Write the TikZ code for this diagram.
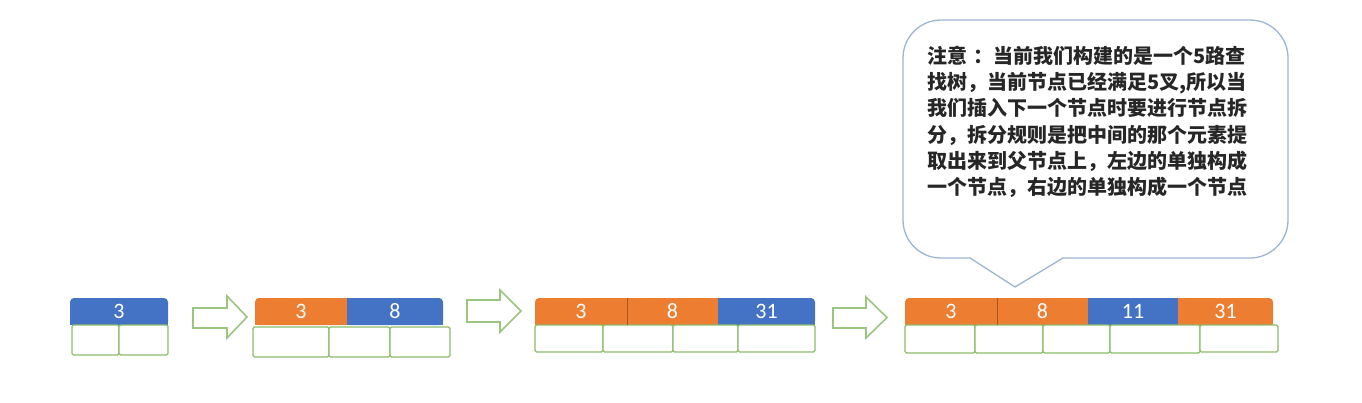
\documentclass[tikz,border=0pt]{standalone}
\usepackage{fontspec}
\newfontfamily\cjk{Noto Sans CJK SC}
\newfontfamily\numfont{Carlito}
\usetikzlibrary{backgrounds}
\definecolor{korange}{HTML}{ED7D31}
\definecolor{kblue}{HTML}{4472C4}
\definecolor{cgreen}{HTML}{8DBB6B}
\definecolor{agreen}{HTML}{9CC57F}
\definecolor{cborder}{HTML}{9DB5D2}
\begin{document}
\begin{tikzpicture}[x=1pt,y=-1pt,
  key/.style={rectangle, inner sep=0pt, minimum height=27pt, text=white,
    font=\numfont\fontsize{22}{22}\selectfont},
  child/.style={rectangle, draw=cgreen, fill=white, line width=1.3pt,
    inner sep=0pt, rounded corners=1.5pt},
  blockarrow/.style={draw=agreen, line width=1.6pt, fill=white, line join=miter},
  divider/.style={korange!70!black, line width=0.7pt}]
\useasboundingbox (0,0) rectangle (1362,402);

% ---------- group 1 ----------
\node[key, fill=kblue, minimum width=98pt, rounded corners=4pt] (a1) at (119,311.5) {3};
\node[child, minimum width=47pt, minimum height=30pt] (a1c1) at (95.5,340) {};
\node[child, minimum width=49pt, minimum height=30pt] (a1c2) at (143.5,340) {};

% ---------- group 2 ----------
\node[key, fill=korange, minimum width=92pt, rounded corners=4pt] (b1) at (301,311.5) {3};
\node[key, fill=kblue, minimum width=96pt, rounded corners=4pt] (b2) at (395,311.5) {8};
\node[child, minimum width=76pt, minimum height=30pt] (b1c1) at (291,342) {};
\node[child, minimum width=61pt, minimum height=30pt] (b1c2) at (359.5,342) {};
\node[child, minimum width=60pt, minimum height=30pt] (b1c3) at (420,342) {};

% ---------- group 3 ----------
\node[key, fill=korange, minimum width=92pt, rounded corners=4pt] (c1) at (581,311.5) {3};
\node[key, fill=korange, minimum width=91pt] (c2) at (672.5,311.5) {8};
\node[key, fill=kblue, minimum width=97pt, rounded corners=4pt] (c3) at (766.5,311.5) {31};
\node[child, minimum width=68pt, minimum height=27pt] (c1c1) at (569,338.5) {};
\node[child, minimum width=70pt, minimum height=27pt] (c1c2) at (638,338.5) {};
\node[child, minimum width=65pt, minimum height=27pt] (c1c3) at (705.5,338.5) {};
\node[child, minimum width=77pt, minimum height=27pt] (c1c4) at (776.5,338.5) {};

% ---------- group 4 ----------
\node[key, fill=korange, minimum width=92pt, rounded corners=4pt] (d1) at (951,311.5) {3};
\node[key, fill=korange, minimum width=91pt] (d2) at (1042.5,311.5) {8};
\node[key, fill=kblue, minimum width=90pt] (d3) at (1133,311.5) {11};
\node[key, fill=korange, minimum width=95pt, rounded corners=4pt] (d4) at (1225.5,311.5) {31};
\node[child, minimum width=70pt, minimum height=28pt] (d1c1) at (940,339) {};
\node[child, minimum width=68pt, minimum height=28pt] (d1c2) at (1009,339) {};
\node[child, minimum width=67pt, minimum height=28pt] (d1c3) at (1076.5,339) {};
\node[child, minimum width=90pt, minimum height=28pt] (d1c4) at (1155,339) {};
\node[child, minimum width=78pt, minimum height=27pt] (d1c5) at (1239,338.5) {};

% squared corners behind the rounded end cells
\begin{scope}[on background layer]
  \fill[kblue] (a1.south west) rectangle (a1.east);
  \fill[korange] (b1.south west) rectangle (b1.east);
  \fill[korange] (b1.north) rectangle (b1.south east);
  \fill[kblue] (b2.south west) rectangle (b2.east);
  \fill[kblue] (b2.north west) rectangle (b2.south);
  \fill[korange] (c1.south west) rectangle (c1.east);
  \fill[korange] (c1.north) rectangle (c1.south east);
  \fill[kblue] (c3.south west) rectangle (c3.east);
  \fill[kblue] (c3.north west) rectangle (c3.south);
  \fill[korange] (d1.south west) rectangle (d1.east);
  \fill[korange] (d1.north) rectangle (d1.south east);
  \fill[korange] (d4.south west) rectangle (d4.east);
  \fill[korange] (d4.north west) rectangle (d4.south);
\end{scope}
\draw[divider] (c1.north east) -- (c1.south east);
\draw[divider] (d1.north east) -- (d1.south east);

% ---------- block arrows ----------
\draw[blockarrow] (193,308) -- (227,308) -- (227,296) -- (247,317) -- (227,338) -- (227,328) -- (193,328) -- cycle;
\draw[blockarrow] (467,300) -- (500,300) -- (500,290) -- (521,311) -- (500,332) -- (500,322) -- (467,322) -- cycle;
\draw[blockarrow] (833,308) -- (866,308) -- (866,297) -- (887,317.5) -- (866,338) -- (866,328) -- (833,328) -- cycle;

% ---------- callout ----------
\draw[cborder, line width=1.3pt, rounded corners=38pt] (903,20) rectangle (1288,258);
\fill[white] (971,255) rectangle (1062,261);
\coordinate (pl) at (970,258);
\coordinate (pt) at (1015,287);
\coordinate (pr) at (1063,258);
\draw[cborder, line width=1.3pt, line join=round] (pl) -- (pt) -- (pr);
\node[anchor=north west, inner sep=0pt, align=left, text=black!85,
  font=\cjk\bfseries\fontsize{20}{26.2}\selectfont] (note) at (927,46)
  {注意\hspace{6pt}：当前我们构建的是一个5路查\\
   找树，当前节点已经满足5叉,所以当\\
   我们插入下一个节点时要进行节点拆\\
   分，拆分规则是把中间的那个元素提\\
   取出来到父节点上，左边的单独构成\\
   一个节点，右边的单独构成一个节点};
\end{tikzpicture}
\end{document}
